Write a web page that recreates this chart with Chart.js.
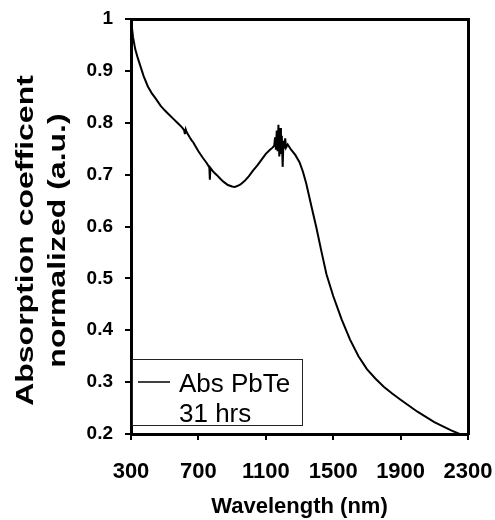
<!DOCTYPE html>
<html><head><meta charset="utf-8">
<script src="https://cdn.jsdelivr.net/npm/chart.js@4.4.1/dist/chart.umd.min.js"></script>
<style>html,body{margin:0;padding:0;background:#fff}#wrap{width:495px;height:520px}</style>
</head><body><div id="wrap"><canvas id="c" width="495" height="520"></canvas></div>
<script>
const wavelengths = [300,305,312,325,340,353,375,400,425,450,475,500,525,550,575,600,615,620,625,630,650,660,670,680,700,725,750,765,768,771,790,810,830,850,875,900,915,930,950,975,1000,1025,1050,1075,1100,1125,1140,1150,1155,1160,1165,1170,1175,1180,1185,1190,1195,1200,1205,1210,1215,1220,1230,1250,1275,1300,1320,1340,1370,1400,1430,1460,1500,1550,1600,1650,1700,1750,1800,1850,1900,2000,2100,2200,2250];
const absorbance  = [1.000,0.985,0.965,0.942,0.925,0.912,0.890,0.870,0.856,0.845,0.833,0.824,0.816,0.808,0.800,0.792,0.786,0.778,0.787,0.782,0.771,0.766,0.762,0.756,0.745,0.733,0.722,0.714,0.690,0.713,0.705,0.699,0.692,0.686,0.680,0.677,0.676,0.678,0.681,0.688,0.697,0.708,0.718,0.729,0.740,0.748,0.752,0.756,0.772,0.748,0.785,0.745,0.796,0.735,0.790,0.740,0.775,0.715,0.765,0.750,0.770,0.752,0.758,0.748,0.738,0.724,0.706,0.683,0.640,0.598,0.552,0.508,0.466,0.421,0.382,0.350,0.325,0.307,0.291,0.278,0.266,0.243,0.223,0.207,0.200];
const xTickLabels = ['300','700','1100','1500','1900','2300'];
const yTickLabels = ['0.2','0.3','0.4','0.5','0.6','0.7','0.8','0.9','1'];
const seriesLabel = ['Abs PbTe', '31 hrs'];
const xTitle = 'Wavelength (nm)';
const yTitle = ['Absorption coefficent', 'normalized (a.u.)'];

const FONT = '"Liberation Sans", Arial, sans-serif';

const yTitlePlugin = {
  id: 'yTitle',
  afterDraw(chart) {
    const ctx = chart.ctx, ca = chart.chartArea;
    const cy = (ca.top + ca.bottom) / 2 + 14;
    const xs = [26, 58];
    ctx.save();
    ctx.fillStyle = '#000';
    ctx.font = 'bold 32px ' + FONT;
    ctx.textAlign = 'center';
    ctx.textBaseline = 'middle';
    yTitle.forEach((t, i) => {
      ctx.save();
      ctx.translate(xs[i], cy);
      ctx.rotate(-Math.PI / 2);
      ctx.scale(1, 0.75);
      ctx.fillText(t, 0, 0);
      ctx.restore();
    });
    ctx.restore();
  }
};

const legendPlugin = {
  id: 'boxLegend',
  afterDraw(chart) {
    const ctx = chart.ctx, ca = chart.chartArea;
    const ds = chart.data.datasets[0];
    const w = 170, h = 66;
    const x = ca.left + 1, y = ca.bottom - 9 - h;
    ctx.save();
    ctx.fillStyle = '#fff';
    ctx.fillRect(x + 1, y, w - 1, h);
    ctx.strokeStyle = '#222';
    ctx.lineWidth = 1;
    ctx.strokeRect(x + 0.5, y + 0.5, w, h);
    ctx.strokeStyle = ds.borderColor;
    ctx.lineWidth = 1.5;
    ctx.beginPath();
    ctx.moveTo(x + 6, y + 23);
    ctx.lineTo(x + 38, y + 23);
    ctx.stroke();
    ctx.fillStyle = '#000';
    ctx.font = '26px ' + FONT;
    ctx.textAlign = 'left';
    ctx.textBaseline = 'alphabetic';
    ctx.fillText(seriesLabel[0], x + 47, y + 33);
    ctx.fillText(seriesLabel[1], x + 47, y + 63);
    ctx.restore();
  }
};

const noPad = s => { s.paddingLeft = 0; s.paddingRight = 0; s.paddingTop = 0; s.paddingBottom = 0; };

new Chart(document.getElementById('c'), {
  type: 'line',
  data: {
    datasets: [{
      label: seriesLabel.join(' '),
      data: wavelengths.map((w, i) => ({x: w, y: absorbance[i]})),
      borderColor: '#000',
      borderWidth: 2,
      pointRadius: 0,
      tension: 0,
      fill: false
    }]
  },
  options: {
    responsive: false,
    animation: false,
    devicePixelRatio: 1,
    layout: {padding: {top: 19, right: 27, left: 0, bottom: 0}},
    plugins: {legend: {display: false}, tooltip: {enabled: false}},
    scales: {
      x: {
        type: 'linear', position: 'bottom',
        min: 300, max: 2300,
        ticks: {stepSize: 400, color: '#000', font: {family: FONT, size: 22, weight: 'bold'}, padding: 19, maxRotation: 0,
          callback: (v, i) => xTickLabels[i]},
        grid: {display: true, drawOnChartArea: false, drawTicks: true, tickLength: 6, color: '#000', lineWidth: 2},
        border: {display: true, color: '#000', width: 3},
        title: {display: true, text: xTitle, color: '#000', font: {family: FONT, size: 22, weight: 'bold'}, padding: {top: 0, bottom: 0}},
        afterFit: s => { s.height = 86; noPad(s); }
      },
      y: {
        type: 'linear', position: 'left',
        min: 0.2, max: 1,
        ticks: {stepSize: 0.1, color: '#000', font: {family: FONT, size: 19, weight: 'bold'}, padding: 12,
          callback: (v, i) => yTickLabels[i]},
        grid: {display: true, drawOnChartArea: false, drawTicks: true, tickLength: 6, color: '#000', lineWidth: 2},
        border: {display: true, color: '#000', width: 3},
        afterFit: s => { s.width = 131; noPad(s); }
      },
      xTop: {
        type: 'linear', position: 'top', min: 300, max: 2300,
        ticks: {display: false}, grid: {display: false},
        border: {display: true, color: '#000', width: 3},
        afterFit: s => { s.height = 0; noPad(s); }
      },
      yRight: {
        type: 'linear', position: 'right', min: 0.2, max: 1,
        ticks: {display: false}, grid: {display: false},
        border: {display: true, color: '#000', width: 3},
        afterFit: s => { s.width = 0; noPad(s); }
      }
    }
  },
  plugins: [yTitlePlugin, legendPlugin]
});
</script>
</body></html>
